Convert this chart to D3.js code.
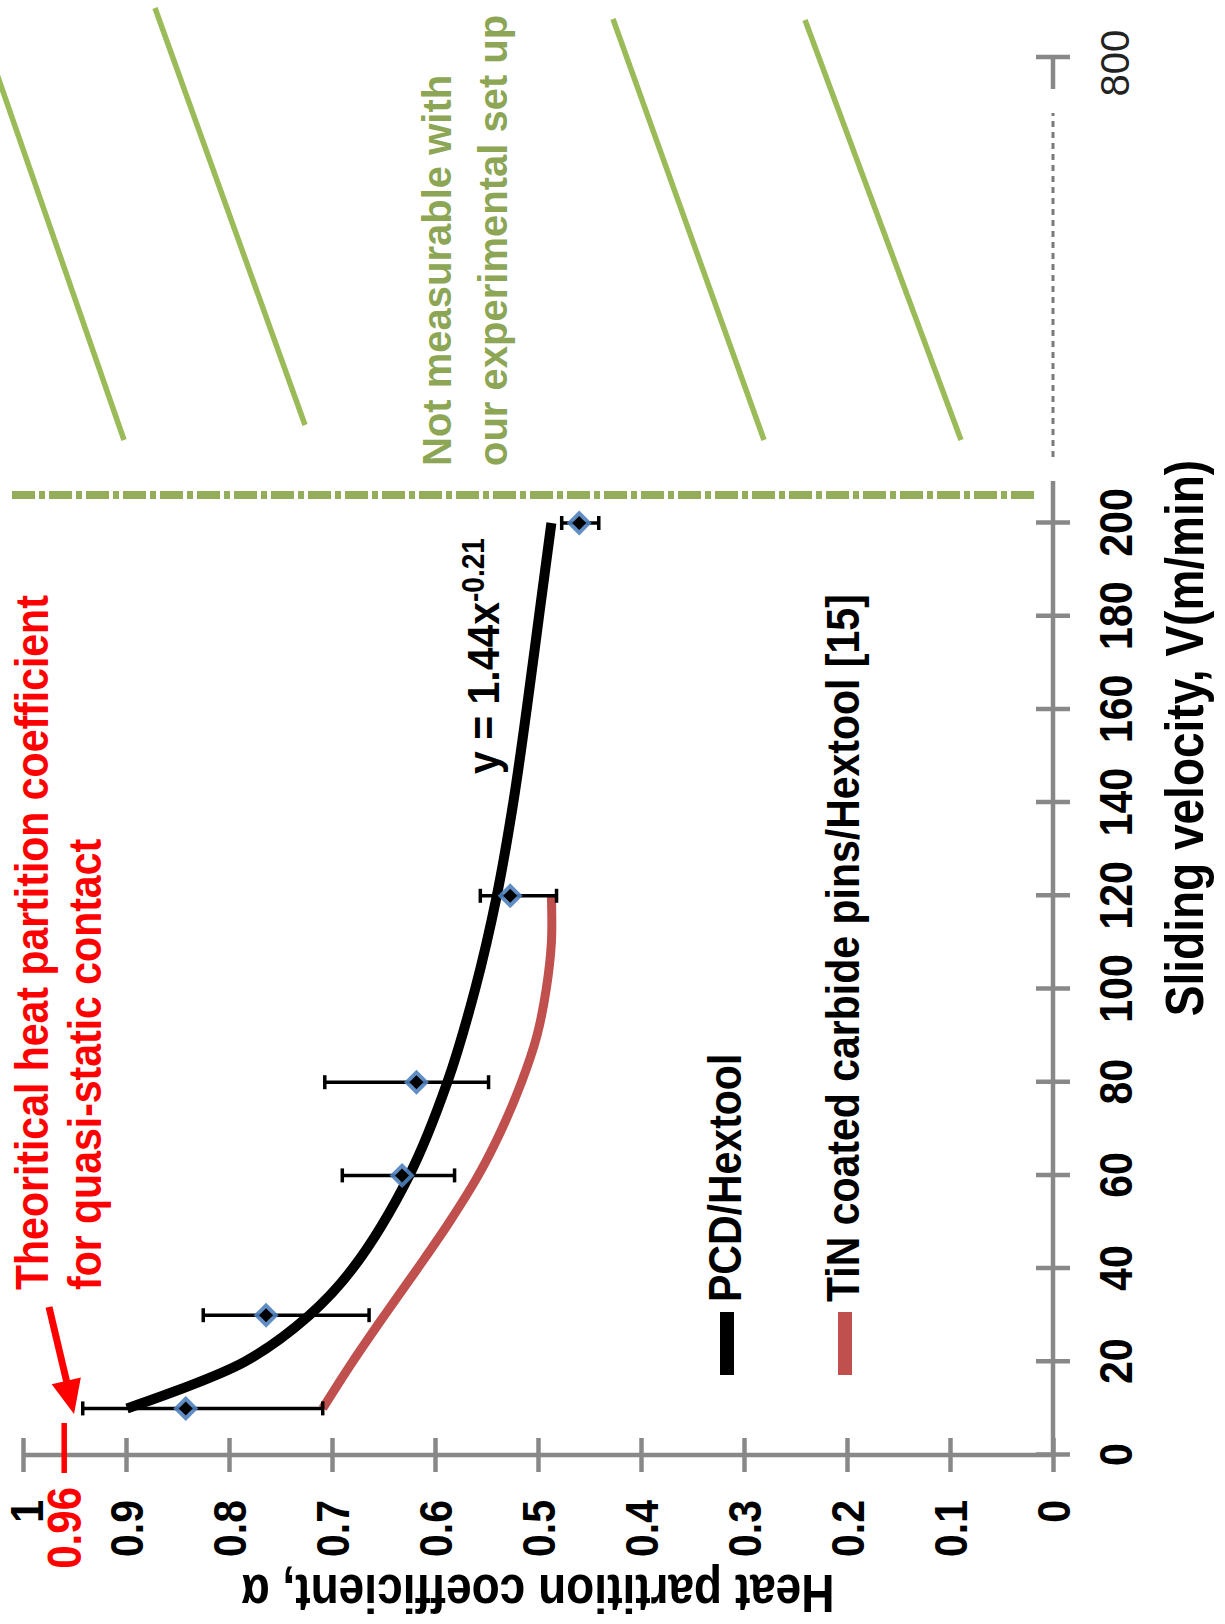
<!DOCTYPE html>
<html><head><meta charset="utf-8">
<script src="https://cdn.jsdelivr.net/npm/d3@7"></script>
<style>
html,body{margin:0;padding:0;background:#fff;}
svg{display:block;}
</style></head><body>
<svg id="chart" width="1225" height="1624"></svg>
<script>
// ---------------- data ----------------
const velocityTicks = [0, 20, 40, 60, 80, 100, 120, 140, 160, 180, 200];
const coefTicks = [0, 0.1, 0.2, 0.3, 0.4, 0.5, 0.6, 0.7, 0.8, 0.9, 1];
const coefTickLabels = ["0", "0.1", "0.2", "0.3", "0.4", "0.5", "0.6", "0.7", "0.8", "0.9", "1"];
const seriesNames = ["PCD/Hextool", "TiN coated carbide pins/Hextool [15]"];

// measured points PCD/Hextool with asymmetric error bars
const pcdVelocity = [10, 30, 60, 80, 120, 200];
const pcdCoef     = [0.842, 0.764, 0.632, 0.618, 0.527, 0.460];
const pcdErrPlus  = [0.100, 0.061, 0.058, 0.089, 0.029, 0.017];
const pcdErrMinus = [0.133, 0.100, 0.051, 0.070, 0.045, 0.019];

// power trend line
const fitVelocity = [10, 20, 30, 40, 60, 80, 100, 120, 140, 160, 180, 200];
const fitCoef     = [0.899, 0.785, 0.722, 0.680, 0.625, 0.588, 0.561, 0.540, 0.524, 0.511, 0.499, 0.487];
const fitLabel = "y = 1.44x";
const fitExponent = "-0.21";

// TiN coated carbide pins curve [15]
const tinVelocity = [10, 20, 30, 40, 50, 60, 70, 80, 90, 100, 110, 120];
const tinCoef     = [0.709, 0.680, 0.649, 0.617, 0.586, 0.558, 0.535, 0.516, 0.501, 0.492, 0.487, 0.487];

const theoreticalCoef = 0.96;
const theoreticalLabel = "0.96";
const breakTick = 800;
const axisMaxVelocity = 209;
const noteLines = ["Theoritical heat partition coefficient", "for quasi-static contact"];
const regionLines = ["Not measurable with", "our experimental set up"];
const xTitle = "Sliding velocity, V(m/min)";
const yTitle = "Heat partition coefficient, \u03b1";

// ---------------- layout (chart drawn upright, then turned a quarter left) ----------------
const W = 1624;
const FONT = "'Liberation Sans', Arial, sans-serif";
const GRAY = "#888888";
const GREEN = "#9BBB59";
const GREEN_TXT = "#8CA656";
const RED = "#FF0000";
const TIN = "#C0504D";
const BLUE = "#4F81BD";
const TALL = 1.15; // glyphs of the original font are taller than Liberation Sans at equal width

const svg = d3.select("#chart");
svg.append("rect").attr("width", 1225).attr("height", 1624).attr("fill", "#fff");
const g = svg.append("g").attr("transform", `translate(0,${W}) rotate(-90)`);

function condense(sel, base) {
  sel.each(function () {
    const t = d3.select(this);
    t.attr("font-size", base);
    const L = this.getComputedTextLength();
    t.attr("font-size", base * TALL).attr("textLength", L).attr("lengthAdjust", "spacingAndGlyphs");
  });
}

const x = d3.scaleLinear().domain([0, 200]).range([169, 1101]);
const y = d3.scaleLinear().domain([0, 1]).range([1053, 23]);
const xb = d3.scaleLinear().domain([axisMaxVelocity, breakTick]).range([x(axisMaxVelocity), 1567]);

// ---------- "not measurable" region ----------
const hatch = [
  [[1619, -27], [1184, 124]],
  [[1616, 155], [1199, 305]],
  [[1605, 613], [1184, 764]],
  [[1604, 805], [1184, 961]]
];
g.selectAll("line.hatch").data(hatch).enter().append("line")
  .attr("class", "hatch")
  .attr("x1", d => d[0][0]).attr("y1", d => d[0][1])
  .attr("x2", d => d[1][0]).attr("y2", d => d[1][1])
  .attr("stroke", GREEN).attr("stroke-width", 5.5);

g.append("line")
  .attr("x1", xb(axisMaxVelocity) - 14).attr("x2", xb(axisMaxVelocity) - 14)
  .attr("y1", 12).attr("y2", 1038)
  .attr("stroke", "#93AD5B").attr("stroke-width", 8)
  .attr("stroke-dasharray", "23,4,6,4");

g.selectAll("text.region").data(regionLines).enter().append("text")
  .attr("class", "region")
  .attr("x", 1158).attr("y", (d, i) => 451 + i * 56)
  .attr("font-family", FONT).attr("font-weight", "bold").attr("font-size", 40)
  .attr("fill", GREEN_TXT).text(d => d);

// ---------- axes ----------
g.append("line")
  .attr("x1", x(0)).attr("x2", x(axisMaxVelocity))
  .attr("y1", y(0)).attr("y2", y(0))
  .attr("stroke", GRAY).attr("stroke-width", 4.5);
g.append("line")
  .attr("x1", x(axisMaxVelocity) + 24).attr("x2", xb(breakTick) - 56)
  .attr("y1", y(0)).attr("y2", y(0))
  .attr("stroke", "#7a7a7a").attr("stroke-width", 3).attr("stroke-dasharray", "6,5");
g.append("line")
  .attr("x1", xb(breakTick) - 32).attr("x2", xb(breakTick))
  .attr("y1", y(0)).attr("y2", y(0))
  .attr("stroke", GRAY).attr("stroke-width", 4.5);
g.append("line")
  .attr("x1", xb(breakTick)).attr("x2", xb(breakTick))
  .attr("y1", y(0) - 17).attr("y2", y(0) + 17)
  .attr("stroke", GRAY).attr("stroke-width", 4.5);
g.append("text")
  .attr("x", xb(breakTick) - 6).attr("y", 1129)
  .attr("text-anchor", "middle")
  .attr("font-family", FONT).attr("font-size", 40).attr("fill", "#222")
  .text(d3.format("d")(breakTick));

const xAxis = d3.axisBottom(x).tickValues(velocityTicks).tickSize(17).tickFormat(d3.format("d"));
const gx = g.append("g").attr("transform", `translate(0,${y(0)})`).call(xAxis);
gx.select(".domain").remove();
gx.selectAll(".tick line").attr("y1", -17).attr("y2", 17)
  .attr("stroke", GRAY).attr("stroke-width", 4.5);
gx.selectAll(".tick text").attr("y", 79).attr("dy", null)
  .attr("font-family", FONT).attr("font-weight", "bold").attr("fill", "#000")
  .call(condense, 41);

g.append("line")
  .attr("x1", x(0)).attr("x2", x(0))
  .attr("y1", y(0)).attr("y2", y(1))
  .attr("stroke", GRAY).attr("stroke-width", 4.5);
const yAxis = d3.axisLeft(y).tickValues(coefTicks).tickSize(17).tickFormat((d, i) => coefTickLabels[i]);
const gy = g.append("g").attr("transform", `translate(${x(0)},0)`).call(yAxis);
gy.select(".domain").remove();
gy.selectAll(".tick line").attr("x1", -17).attr("x2", 17)
  .attr("stroke", GRAY).attr("stroke-width", 4.5);
gy.selectAll(".tick text").attr("x", -45).attr("dy", d => d === 1 ? "0.42em" : "0.35em")
  .attr("font-family", FONT).attr("font-weight", "bold").attr("fill", "#000")
  .call(condense, 41);

// axis titles
g.append("text")
  .attr("x", 886).attr("y", 1203).attr("text-anchor", "middle")
  .attr("font-family", FONT).attr("font-weight", "bold").attr("fill", "#000")
  .text(xTitle).call(condense, 46);
g.append("text")
  .attr("transform", `translate(49,${(y(0) + y(1)) / 2}) rotate(-90)`)
  .attr("text-anchor", "middle")
  .attr("font-family", FONT).attr("font-weight", "bold").attr("fill", "#000")
  .text(yTitle).call(condense, 46);

// ---------- theoretical value annotation ----------
g.append("line")
  .attr("x1", x(0) - 18).attr("x2", x(0) + 32)
  .attr("y1", y(theoreticalCoef)).attr("y2", y(theoreticalCoef))
  .attr("stroke", RED).attr("stroke-width", 5.5);
g.append("text")
  .attr("x", 137).attr("y", y(theoreticalCoef)).attr("dy", "0.35em")
  .attr("text-anchor", "end")
  .attr("font-family", FONT).attr("font-weight", "bold").attr("fill", RED)
  .text(theoreticalLabel).call(condense, 42);
const arrowFrom = [317, 49], arrowTo = [210, 74];
g.append("line")
  .attr("x1", arrowFrom[0]).attr("y1", arrowFrom[1])
  .attr("x2", arrowTo[0] + 14).attr("y2", arrowTo[1] - 3)
  .attr("stroke", RED).attr("stroke-width", 7);
(function () {
  const dx = arrowTo[0] - arrowFrom[0], dy = arrowTo[1] - arrowFrom[1];
  const L = Math.hypot(dx, dy), ux = dx / L, uy = dy / L;
  const len = 34, half = 15;
  const bx = arrowTo[0] - ux * len, by = arrowTo[1] - uy * len;
  const pts = [[arrowTo[0], arrowTo[1]], [bx - uy * half, by + ux * half], [bx + uy * half, by - ux * half]];
  g.append("path").attr("d", "M" + pts.map(p => p.join(",")).join("L") + "Z").attr("fill", RED);
})();
g.selectAll("text.note").data(noteLines).enter().append("text")
  .attr("class", "note")
  .attr("x", 334).attr("y", (d, i) => 48 + i * 53)
  .attr("font-family", FONT).attr("font-weight", "bold").attr("fill", RED)
  .text(d => d).call(condense, 41);

// ---------- series ----------
const tinData = tinVelocity.map((v, i) => ({ v, c: tinCoef[i] }));
const fitData = fitVelocity.map((v, i) => ({ v, c: fitCoef[i] }));
const pcdData = pcdVelocity.map((v, i) => ({ v, c: pcdCoef[i], hi: pcdCoef[i] + pcdErrPlus[i], lo: pcdCoef[i] - pcdErrMinus[i] }));

const line = d3.line().x(d => x(d.v)).y(d => y(d.c)).curve(d3.curveCatmullRom.alpha(0.5));

g.append("path").datum(tinData).attr("d", line)
  .attr("fill", "none").attr("stroke", TIN).attr("stroke-width", 9);
g.append("path").datum(fitData).attr("d", line)
  .attr("fill", "none").attr("stroke", "#000").attr("stroke-width", 10);

const eb = g.append("g").attr("stroke", "#000").attr("stroke-width", 3.5);
eb.selectAll("line.bar").data(pcdData).enter().append("line")
  .attr("x1", d => x(d.v)).attr("x2", d => x(d.v))
  .attr("y1", d => y(d.hi)).attr("y2", d => y(d.lo));
eb.selectAll("line.caphi").data(pcdData).enter().append("line")
  .attr("x1", d => x(d.v) - 7).attr("x2", d => x(d.v) + 7)
  .attr("y1", d => y(d.hi)).attr("y2", d => y(d.hi));
eb.selectAll("line.caplo").data(pcdData).enter().append("line")
  .attr("x1", d => x(d.v) - 7).attr("x2", d => x(d.v) + 7)
  .attr("y1", d => y(d.lo)).attr("y2", d => y(d.lo));

const diamond = r => `M0,${-r}L${r},0L0,${r}L${-r},0Z`;
const mk = g.selectAll("g.mk").data(pcdData).enter().append("g")
  .attr("transform", d => `translate(${x(d.v)},${y(d.c)})`);
mk.append("path").attr("d", diamond(12.5)).attr("fill", BLUE).attr("opacity", 0.9);
mk.append("path").attr("d", diamond(7)).attr("fill", "#000");

// equation label
const eq = g.append("text")
  .attr("x", 850).attr("y", 499)
  .attr("font-family", FONT).attr("font-weight", "bold").attr("fill", "#000");
eq.append("tspan").attr("font-size", 44).attr("textLength", 172).attr("lengthAdjust", "spacingAndGlyphs").text(fitLabel);
eq.append("tspan").attr("font-size", 31).attr("dy", -15).attr("textLength", 64).attr("lengthAdjust", "spacingAndGlyphs").text(fitExponent);

// ---------- legend ----------
const legendColors = ["#000", TIN];
const legendY = [727, 845];
const lg = g.selectAll("g.lg").data(seriesNames).enter().append("g");
lg.append("line")
  .attr("x1", 249).attr("x2", 312)
  .attr("y1", (d, i) => legendY[i]).attr("y2", (d, i) => legendY[i])
  .attr("stroke", (d, i) => legendColors[i]).attr("stroke-width", 14);
lg.append("text")
  .attr("x", 322).attr("y", (d, i) => legendY[i] + 14)
  .attr("font-family", FONT).attr("font-weight", "bold").attr("fill", "#000")
  .text(d => d).call(condense, 41);
</script>
</body></html>
